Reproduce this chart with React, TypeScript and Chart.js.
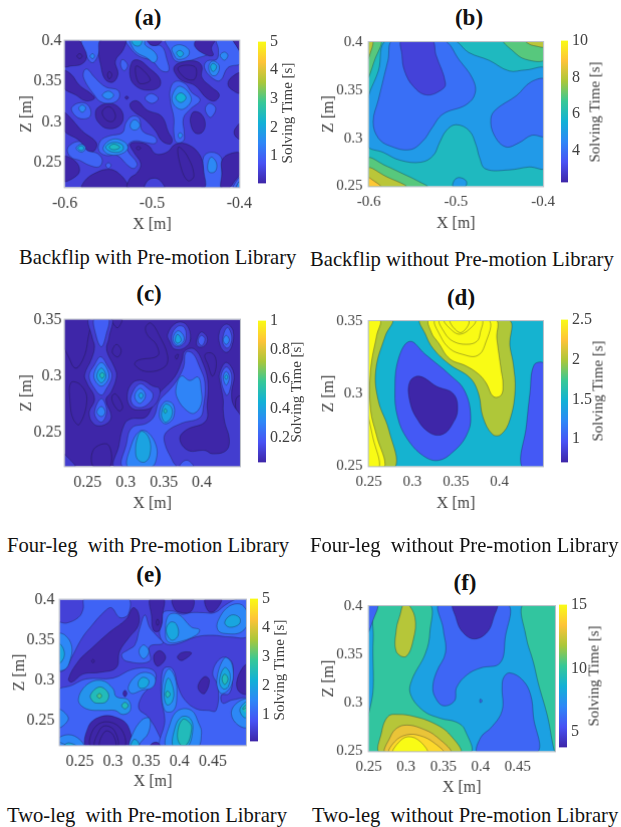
import React, { useEffect, useRef } from 'react';
import { Chart, registerables } from 'chart.js';

Chart.register(...registerables);

// Every ring: [solving time of the band, x, z, x, z, ...] with x and z in millimetres, painted in list order.
const ringsA: number[][] = [
  [1, -530,402,-505,402,-502,395,-489,393,-483,377,-481,363,-489,363,-500,375,-515,381,-525,391],
  [1, -580,402,-559,402,-561,385,-568,373,-575,381],
  [1, -484,402,-449,402,-436,385,-447,379,-460,375,-473,375,-479,387],
  [1, -426,402,-409,402,-398,373,-413,367,-422,351,-432,355,-440,367,-437,375,-426,377,-424,389],
  [1, -536,370,-534,377,-528,370,-532,363],
  [1, -578,363,-574,365,-566,355,-553,343,-539,339,-538,329,-547,323,-559,325,-566,333,-578,353],
  [1, -592,318,-581,324,-572,319,-571,307,-581,304,-589,309],
  [1, -508,329,-501,335,-493,329,-500,323],
  [1, -479,341,-473,350,-462,347,-455,337,-445,327,-456,316,-464,305,-463,285,-464,277,-472,275,-475,287,-475,305,-479,325],
  [1, -439,317,-434,323,-427,317,-432,306,-436,308],
  [1, -559,277,-549,283,-534,287,-530,299,-523,307,-515,305,-511,289,-496,281,-496,274,-508,275,-519,277,-527,273,-528,265,-517,249,-521,243,-528,247,-540,259,-553,259,-561,265],
  [1, -597,267,-589,275,-580,275,-572,265,-562,261,-557,253,-561,245,-572,247,-583,253,-593,257],
  [1, -553,247,-550,250,-547,247,-550,243],
  [1, -441,257,-432,263,-421,257,-420,241,-421,218,-442,218,-441,237],
  [0.05, -602,402,-586,402,-578,391,-575,379,-581,371,-592,369,-602,369],
  [0.05, -586,381,-583,384,-580,381,-583,378],
  [0.05, -602,363,-593,359,-583,345,-570,335,-566,329,-576,326,-587,333,-602,343],
  [0.05, -558,402,-531,402,-533,389,-542,375,-539,359,-545,349,-554,353,-559,371,-561,385],
  [0.05, -551,358,-549,362,-546,358,-549,353],
  [0.05, -506,402,-489,402,-493,395,-501,395],
  [0.05, -523,374,-515,376,-504,367,-491,353,-492,343,-504,339,-517,343,-525,355],
  [0.05, -518,369,-502,352,-515,348],
  [0.05, -448,402,-428,402,-432,391,-430,382,-439,383,-451,393],
  [0.05, -475,367,-468,373,-451,375,-443,369,-443,355,-432,343,-423,334,-428,326,-437,329,-451,345,-466,351,-473,359],
  [0.05, -470,367,-451,368,-451,353,-462,354],
  [0.05, -398,360,-409,355,-413,347,-409,340,-398,336],
  [0.05, -407,402,-398,402,-398,387,-403,393],
  [0.05, -562,318,-549,323,-537,317,-533,305,-538,295,-551,292,-561,299,-565,309],
  [0.05, -557,313,-549,319,-542,309,-545,301,-553,303],
  [0.05, -602,312,-595,307,-580,289,-564,275,-566,265,-574,265,-583,277,-602,291],
  [0.05, -525,323,-517,326,-506,315,-489,307,-481,287,-477,279,-479,273,-489,277,-496,289,-508,303,-523,315],
  [0.05, -451,313,-443,309,-439,297,-443,287,-451,287,-456,299,-455,309],
  [0.05, -531,330,-529,332,-527,330,-529,328],
  [0.05, -602,257,-589,253,-583,241,-589,232,-602,228],
  [0.05, -580,218,-577,228,-564,238,-549,242,-538,237,-528,224,-527,218],
  [0.05, -525,273,-515,275,-504,271,-496,261,-483,263,-473,273,-458,272,-445,259,-441,241,-442,218,-527,218,-526,230,-517,238,-513,249,-521,263],
  [0.5, -508,218,-505,228,-496,231,-489,226,-486,218],
  [0.05, -470,269,-460,259,-452,234,-459,228,-467,245],
  [0.05, -518,268,-516,270,-513,268,-516,266],
  [0.05, -420,253,-411,261,-398,261,-398,239,-405,228,-413,218,-421,218,-420,237],
  [1, -407,218,-403,228,-398,233,-398,218],
  [1.5, -403,218,-401,226,-398,226,-398,218],
  [0.05, -398,299,-404,293,-406,287,-403,281,-398,279],
  [1.5, -525,402,-509,402,-508,395,-498,387,-494,379,-498,373,-506,379,-517,385,-523,393],
  [2, -523,402,-512,402,-514,394,-521,395],
  [1.5, -571,381,-568,384,-566,381,-568,378],
  [1.5, -477,391,-468,395,-458,389,-459,381,-470,377,-475,383],
  [2, -472,385,-468,388,-464,384,-468,380],
  [1.5, -422,382,-417,386,-413,382,-417,376],
  [1.5, -435,369,-430,375,-423,369,-426,358,-432,358],
  [2, -433,368,-430,372,-426,368,-430,362],
  [1.5, -557,333,-550,338,-544,333,-550,328],
  [1.5, -584,317,-580,321,-576,317,-580,312],
  [1.5, -477,332,-468,344,-455,329,-464,316,-474,320],
  [2.2, -473,330,-467,336,-461,330,-467,324],
  [1.5, -470,284,-468,287,-465,284,-468,280],
  [1.5, -587,268,-581,273,-576,268,-581,263],
  [2, -585,268,-581,271,-578,268,-581,265],
  [1.5, -525,297,-520,303,-514,297,-517,291,-523,291],
  [1.5, -556,269,-545,279,-531,275,-528,267,-538,260,-551,261],
  [2, -553,269,-545,275,-534,272,-534,265,-545,263],
  [2.4, -549,269,-544,273,-537,269,-544,266],
  [1.5, -436,249,-432,257,-426,249,-428,239,-435,239],
];

const ringsB: number[][] = [
  [5, -579,402,-504,402,-485,389,-462,381,-439,370,-420,371,-397,371,-397,270,-416,270,-439,267,-466,268,-473,280,-477,293,-485,308,-500,314,-511,308,-519,295,-526,282,-540,275,-564,277,-583,285,-602,293,-602,337,-589,370],
  [7, -602,402,-586,402,-593,382,-602,362],
  [8, -602,402,-595,402,-600,384,-602,381],
  [7, -445,402,-397,402,-397,382,-420,382,-435,391],
  [8, -421,402,-397,402,-397,395,-409,396,-416,398],
  [7, -602,279,-580,271,-561,263,-545,256,-533,249,-602,248],
  [8, -602,269,-580,260,-557,249,-602,248],
  [9, -602,259,-595,256,-586,249,-602,248],
  [5, -503,249,-502,256,-496,259,-488,255,-490,249],
  [4, -572,402,-515,402,-496,381,-481,362,-478,347,-488,335,-515,325,-528,310,-538,297,-553,288,-576,292,-589,300,-595,317,-589,340,-578,381],
  [3, -562,402,-528,402,-523,387,-512,357,-517,350,-534,345,-549,354,-559,370,-562,387],
  [4, -397,360,-413,359,-431,344,-454,330,-460,320,-456,303,-443,291,-428,295,-413,303,-397,303],
];

const ringsC: number[][] = [
  [0.03, 217,352,251,352,250,331,244,315,234,307,225,317,217,330],
  [0.03, 228,294,241,292,249,279,239,257,231,262,227,276],
  [0.03, 283,324,288,328,294,323,290,317,283,320],
  [0.03, 281,352,295,352,290,343,284,346],
  [0.03, 282,282,287,284,296,273,292,269,284,275],
  [0.03, 258,235,277,239,279,219,258,219],
  [0.03, 326,343,333,347,344,336,355,318,351,308,327,304,312,310,316,314,342,318,340,328,329,336],
  [0.03, 404,319,414,320,419,311,414,300,408,310],
  [0.03, 381,333,383,335,385,333,383,330],
  [0.03, 365,317,367,319,369,319,367,315],
  [0.03, 445,280,452,282,452,264,446,267],
  [0.1, 252,352,281,352,278,334,275,323,285,308,288,300,281,286,274,279,281,264,273,257,259,257,252,267,259,280,249,294,246,301,255,315,259,326,256,334],
  [0.2, 259,352,277,352,274,336,268,326,261,336],
  [0.2, 267,317,277,308,282,300,274,288,268,283,259,289,252,300,259,310],
  [0.2, 268,280,275,269,268,259,259,267],
  [0.3, 258,300,268,312,278,300,268,291],
  [0.4, 262,300,268,307,274,300,268,294],
  [0.5, 266,301,269,303,272,301,269,298],
  [0.3, 262,268,268,273,273,268,268,264],
  [0.1, 287,219,291,238,298,257,307,262,325,263,333,270,342,283,364,299,374,314,377,322,390,324,401,312,408,295,407,275,405,260,379,252,371,244,382,234,404,234,414,231,432,234,436,244,430,259,428,270,428,279,424,294,423,302,432,312,442,302,439,285,441,275,452,262,452,219],
  [0.1, 302,283,309,294,322,296,336,291,344,289,344,282,336,273,322,270,307,272],
  [0.1, 217,232,222,229,234,219,217,219],
  [0.2, 297,219,301,240,308,254,327,258,337,264,344,278,355,286,366,295,376,308,379,321,388,320,397,308,404,294,402,273,397,263,373,258,353,250,351,241,362,224,366,219],
  [0.2, 371,219,375,224,382,225,389,219],
  [0.3, 303,219,307,238,318,251,329,250,340,238,340,226,333,219],
  [0.4, 313,232,316,247,322,251,331,244,332,231,326,224,317,225],
  [0.3, 344,267,351,277,362,275,363,264,355,258,348,259],
  [0.4, 347,267,352,275,360,272,360,264,353,259,349,261],
  [0.5, 350,269,352,271,354,269,352,267],
  [0.2, 307,282,318,293,329,289,336,283,329,275,318,272,309,275],
  [0.3, 312,283,319,289,326,283,320,276,315,277],
  [0.4, 317,283,320,285,323,283,320,280],
  [0.3, 366,289,373,300,384,296,395,299,399,288,399,275,390,267,379,270,368,280],
  [0.1, 355,337,366,347,379,346,385,333,377,325,364,324,358,330],
  [0.2, 360,335,368,344,377,343,379,333,373,327,364,327],
  [0.3, 362,333,368,340,375,337,376,331,368,327],
  [0.4, 365,332,368,337,373,332,368,329],
  [0.1, 393,331,399,339,407,334,404,327,395,326],
  [0.2, 395,331,399,336,404,333,400,327],
  [0.1, 423,339,432,346,441,340,439,326,432,321,424,327],
  [0.2, 427,331,433,343,439,336,437,327,432,325],
  [0.3, 428,332,432,336,436,332,432,328],
  [0.2, 425,299,432,308,439,301,436,286,432,283],
  [0.3, 428,299,432,304,436,299,432,292],
  [0.4, 430,299,432,301,434,299,432,297],
];

const ringsD: number[][] = [
  [2, 248,351,277,351,269,340,258,316,261,295,273,275,280,249,248,249],
  [2.5, 248,351,263,351,259,340,252,316,252,289,259,271,268,249,248,249],
  [2.5, 248,285,255,269,262,249,248,249],
  [2, 310,351,410,351,412,333,416,320,418,302,412,282,402,272,392,272,381,284,376,300,366,311,343,320,324,331,315,341],
  [2.5, 320,351,395,351,397,338,402,316,404,307,402,299,393,298,385,307,377,313,362,319,343,324,330,335,322,342],
  [2.5, 327,351,332,340,343,331,358,327,374,326,383,333,387,351],
  [2.5, 332,351,337,342,347,336,362,334,374,336,378,342,379,351],
  [2.5, 337,351,343,345,355,341,370,347,372,351],
  [2.5, 343,351,355,342,365,350],
  [1, 297,336,315,327,343,313,360,302,367,284,362,271,347,260,330,254,313,257,294,269,283,284,280,302,284,324],
  [0.71, 308,312,328,305,347,300,352,289,346,279,335,272,320,273,305,283,297,295,297,308],
  [1, 440,320,452,320,452,249,426,249,431,278,435,300],
];

const ringsE: number[][] = [
  [1, 258,402,322,402,323,382,310,378,298,390,288,386,266,366,253,352,240,332,228,314,216,312,216,371,230,371,248,378,255,388],
  [1, 313,332,323,338,333,344,340,364,348,381,355,366,365,356,375,346,355,342,355,324,320,324],
  [1, 375,384,390,386,403,382,418,384,435,384,453,384,470,394,490,402,503,402,503,356,475,354,450,356,425,354,395,345,378,346,370,358,374,372],
  [1, 216,286,238,294,260,302,300,303,330,314,358,314,365,304,355,292,343,280,339,265,353,255,370,231,375,217,216,217],
  [1, 374,217,378,251,373,276,373,304,378,316,390,314,398,292,408,276,425,265,443,263,455,263,458,292,450,310,463,328,478,324,480,304,475,284,463,282,465,272,480,276,503,276,503,217],
  [0.07, 233,302,248,324,268,340,295,360,320,376,330,390,338,384,338,368,323,352,310,336,305,316,280,310,255,308,238,298],
  [0.07, 268,324,270,326,272,324,270,322],
  [0.07, 356,402,376,402,375,384,370,362,361,362,358,380],
  [0.07, 365,372,367,376,369,372,367,368],
  [0.07, 390,402,420,402,418,386,403,384,393,388],
  [0.07, 439,402,463,402,453,386,443,386],
  [0.07, 361,330,370,337,379,330,375,322,366,318],
  [0.07, 397,330,405,335,418,334,405,325,399,326],
  [0.07, 428,294,438,305,445,300,438,284,431,286],
  [0.07, 503,320,495,316,486,298,490,286,503,284],
  [0.07, 315,284,318,288,321,284,318,280],
  [0.07, 261,217,263,243,280,255,303,255,323,243,324,217],
  [0.07, 268,217,270,239,290,249,313,239,316,217],
  [0.07, 273,217,280,239,290,244,303,237,306,217],
  [0.07, 280,217,288,237,300,233,303,217],
  [0.07, 355,217,360,223,368,223,371,217],
  [1.5, 216,357,228,356,238,342,235,324,228,314,216,314],
  [2, 216,347,225,340,226,328,216,320],
  [1.5, 379,356,383,380,398,382,418,366,430,363,425,356,395,347,383,348],
  [2, 380,362,386,372,395,370,398,356,388,350],
  [1.5, 458,374,475,392,495,393,503,374,493,360,470,358,458,362],
  [2, 468,372,478,381,490,378,490,370,475,366],
  [1.5, 339,336,346,344,354,336,346,327],
  [1.7, 248,276,261,295,283,300,300,290,305,280,323,276,326,263,315,258,303,263,285,263,260,265],
  [2.5, 266,282,280,292,293,284,290,274,278,272,270,274],
  [3, 276,281,280,284,283,281,280,278],
  [2.5, 313,269,318,273,323,269,318,265],
  [1.5, 323,292,335,306,350,310,363,304,360,292,343,288,328,284],
  [2, 338,298,345,304,354,300,350,292,340,291],
  [1.5, 216,217,216,227,233,233,250,227,256,217],
  [2, 225,217,233,223,248,217],
  [1.5, 216,265,233,253,216,241],
  [1.5, 325,217,328,231,343,251,355,253,353,235,341,223,338,217],
  [2, 327,217,331,227,337,225,339,217],
  [1.5, 374,292,383,314,393,304,396,280,391,263,378,263],
  [2, 377,284,383,303,391,288,389,274,381,270],
  [2.5, 379,283,382,287,386,283,382,279],
  [1.5, 381,217,386,247,398,263,418,263,429,247,433,235,426,217],
  [2, 391,217,393,241,403,255,416,253,420,239,411,217],
  [2.5, 397,235,405,252,416,247,418,239,411,221,401,221],
  [1.5, 456,300,468,328,479,320,478,294,463,284],
  [2, 460,300,468,316,476,308,473,292,465,290],
  [2.5, 464,302,468,308,473,302,468,295],
  [1.5, 478,259,486,272,503,276,503,243,488,245],
  [2, 491,265,503,274,503,255,496,255],
  [2.5, 495,265,503,270,503,259],
];

const ringsF: number[][] = [
  [10, 262,403,330,403,332,373,326,351,308,324,306,309,323,292,346,284,368,280,379,272,385,248,251,248,256,316,256,366],
  [10, 458,403,504,403,504,248,500,248,490,286,478,319,471,342,461,369],
  [6, 247,403,262,403,256,386,247,371],
  [12, 297,403,302,403,312,388,310,366,300,348,287,353,287,376,292,391],
  [12, 266,248,267,269,276,286,290,288,310,286,337,279,359,267,372,248],
  [13, 273,248,279,265,288,274,301,277,319,274,341,265,359,248],
  [14, 278,248,285,260,301,267,319,266,337,259,350,248],
  [15, 283,248,290,259,303,265,319,260,328,248],
  [6, 346,403,435,403,433,366,426,341,400,336,382,329,368,316,365,302,350,297,339,306,336,317,341,332,353,352,350,376],
  [4, 364,403,421,403,418,389,409,373,391,366,375,374,367,388],
  [6, 431,326,439,331,456,324,467,309,471,286,475,248,397,248,400,264,415,275,429,292,429,316],
  [6, 399,302,400,304,402,302,400,300],
];

const xTicksWide = [-0.6, -0.5, -0.4];
const xTicksC = [0.25, 0.3, 0.35, 0.4];
const xTicksD = [0.25, 0.3, 0.35, 0.4];
const xTicksE = [0.25, 0.3, 0.35, 0.4, 0.45];
const xTicksF = [0.25, 0.3, 0.35, 0.4, 0.45];
const zTicksAE = [0.25, 0.3, 0.35, 0.4];
const zTicksCD = [0.25, 0.3, 0.35];
const barTicksA = [1, 2, 3, 4, 5];
const barTicksB = [4, 6, 8, 10];
const barTicksC = [0.2, 0.4, 0.6, 0.8, 1];
const barTicksD = [1, 1.5, 2, 2.5];
const barTicksF = [5, 10, 15];

const PARULA = [
  [0.2422, 0.1504, 0.6603], [0.281, 0.3228, 0.9579], [0.1786, 0.5289, 0.9682], [0.0689, 0.6948, 0.8394],
  [0.2161, 0.7843, 0.5923], [0.672, 0.7793, 0.2227], [0.997, 0.7659, 0.2199], [0.9769, 0.9839, 0.0805],
];

function parula(t: number): string {
  const u = Math.max(0, Math.min(1, t)) * (PARULA.length - 1);
  const i = Math.min(PARULA.length - 2, Math.floor(u));
  const f = u - i;
  const c = PARULA[i].map((v, k) => Math.round(255 * (v + (PARULA[i + 1][k] - v) * f)));
  return `rgb(${c[0]},${c[1]},${c[2]})`;
}

const SERIF = '"Liberation Serif", "Times New Roman", serif';
const INK = '#404040';

type Panel = {
  tag: string; tagX: number; tagY: number;
  caption: string; capX: number; capY: number;
  x0: number; x1: number; y0: number; y1: number;
  xMin: number; xMax: number; zMin: number; zMax: number;
  xTicks: number[]; zTicks: number[];
  vMin: number; vMax: number; base: number; rings: number[][];
  barX0: number; barX1: number; barTicks: number[];
  barTitleX: number;
  yTitleX: number; xTitleY: number; yPad: number; tickFont: number;
};

const panels: Panel[] = [
  { tag: '(a)', tagX: 148, tagY: 17, caption: 'Backflip with Pre-motion Library', capX: 19, capY: 257,
    x0: 65, x1: 241, y0: 38, y1: 187, xMin: -0.6, xMax: -0.4, zMin: 0.22, zMax: 0.4,
    xTicks: xTicksWide, zTicks: zTicksAE, vMin: 0.05, vMax: 5, base: 0.5, rings: ringsA,
    barX0: 258, barX1: 266, barTicks: barTicksA, barTitleX: 287, yTitleX: 27, xTitleY: 224, yPad: 3, tickFont: 16 },
  { tag: '(b)', tagX: 469, tagY: 17, caption: 'Backflip without Pre-motion Library', capX: 310, capY: 259,
    x0: 369, x1: 544, y0: 37, y1: 186, xMin: -0.6, xMax: -0.4, zMin: 0.25, zMax: 0.4,
    xTicks: xTicksWide, zTicks: zTicksAE, vMin: 2.3, vMax: 10, base: 6, rings: ringsB,
    barX0: 561, barX1: 568, barTicks: barTicksB, barTitleX: 595, yTitleX: 329, xTitleY: 223, yPad: 6, tickFont: 15 },
  { tag: '(c)', tagX: 149, tagY: 293, caption: 'Four-leg  with Pre-motion Library', capX: 7, capY: 545,
    x0: 65, x1: 240, y0: 317, y1: 466, xMin: 0.22, xMax: 0.45, zMin: 0.22, zMax: 0.35,
    xTicks: xTicksC, zTicks: zTicksCD, vMin: 0.03, vMax: 1, base: 0.03, rings: ringsC,
    barX0: 258, barX1: 266, barTicks: barTicksC, barTitleX: 296, yTitleX: 27, xTitleY: 503, yPad: 3, tickFont: 16 },
  { tag: '(d)', tagX: 461, tagY: 297, caption: 'Four-leg  without Pre-motion Library', capX: 310, capY: 545,
    x0: 369, x1: 543, y0: 316, y1: 466, xMin: 0.25, xMax: 0.45, zMin: 0.25, zMax: 0.35,
    xTicks: xTicksD, zTicks: zTicksCD, vMin: 0.71, vMax: 2.5, base: 1.5, rings: ringsD,
    barX0: 561, barX1: 568, barTicks: barTicksD, barTitleX: 598, yTitleX: 329, xTitleY: 503, yPad: 6, tickFont: 15 },
  { tag: '(e)', tagX: 149, tagY: 574, caption: 'Two-leg  with Pre-motion Library', capX: 7, capY: 815,
    x0: 60, x1: 246, y0: 595, y1: 745, xMin: 0.22, xMax: 0.5, zMin: 0.22, zMax: 0.4,
    xTicks: xTicksE, zTicks: zTicksAE, vMin: 0.07, vMax: 5, base: 0.5, rings: ringsE,
    barX0: 250, barX1: 258, barTicks: barTicksA, barTitleX: 279, yTitleX: 20, xTitleY: 781, yPad: 5, tickFont: 16 },
  { tag: '(f)', tagX: 465, tagY: 582, caption: 'Two-leg  without Pre-motion Library', capX: 312, capY: 815,
    x0: 369, x1: 555, y0: 601, y1: 751, xMin: 0.25, xMax: 0.5, zMin: 0.25, zMax: 0.4,
    xTicks: xTicksF, zTicks: zTicksAE, vMin: 3.8, vMax: 15, base: 8, rings: ringsF,
    barX0: 559, barX1: 567, barTicks: barTicksF, barTitleX: 594, yTitleX: 329, xTitleY: 787, yPad: 6, tickFont: 15 },
];

const TOP_PAD = 10;
const RIGHT_PAD = 18;
const BAR_LABEL_W = 40;
const TITLE_OFFSET = 9.6;

const contourFill = {
  id: 'contourFill',
  afterDatasetUpdate(_chart: any, args: any) {
    const line = args.meta.dataset;
    if (!line) return;
    line._loop = true;
    line._fullLoop = true;
    line._pointsUpdated = false;
    delete line._segments;
    delete line._path;
  },
  beforeDatasetsDraw(chart: any, _args: any, opts: any) {
    const { ctx, chartArea: a } = chart;
    ctx.save();
    ctx.fillStyle = opts.baseColor;
    ctx.fillRect(a.left, a.top, a.width, a.height);
    ctx.restore();
  },
  beforeDatasetDraw(chart: any, args: any) {
    const line = args.meta.dataset;
    if (!line) return;
    const { ctx, chartArea: a } = chart;
    line.updateControlPoints(a, 'x');
    ctx.save();
    ctx.beginPath();
    ctx.rect(a.left, a.top, a.width, a.height);
    ctx.clip();
    ctx.beginPath();
    line.path(ctx);
    ctx.closePath();
    ctx.fillStyle = line.options.backgroundColor;
    ctx.fill();
    ctx.restore();
  },
  afterDraw(chart: any) {
    const { ctx, chartArea: a } = chart;
    ctx.save();
    ctx.strokeStyle = '#b8bcc4';
    ctx.lineWidth = 1;
    ctx.strokeRect(a.left - 0.5, a.top - 0.5, a.width + 1, a.height + 1);
    ctx.restore();
  },
};

function ringToPoints(ring: number[]) {
  const pts: { x: number; y: number }[] = [];
  for (let i = 1; i + 1 < ring.length; i += 2) pts.push({ x: ring[i] / 1000, y: ring[i + 1] / 1000 });
  return pts;
}

function ContourChart({ p }: { p: Panel }) {
  const ref = useRef<HTMLCanvasElement>(null);
  const yW = p.x0 - (p.yTitleX - TITLE_OFFSET);
  const xH = p.xTitleY + TITLE_OFFSET - p.y1;
  const width = yW + (p.x1 - p.x0) + RIGHT_PAD;
  const height = TOP_PAD + (p.y1 - p.y0) + xH;
  useEffect(() => {
    const norm = (v: number) => (v - p.vMin) / (p.vMax - p.vMin);
    const chart = new Chart(ref.current as HTMLCanvasElement, {
      type: 'scatter',
      data: {
        datasets: p.rings.map((ring, i) => ({
          data: ringToPoints(ring),
          showLine: true,
          tension: 0.4,
          capBezierPoints: false,
          fill: false,
          pointRadius: 0,
          borderWidth: 0.55,
          borderColor: 'rgba(25,25,45,0.6)',
          backgroundColor: parula(norm(ring[0])),
          order: -i,
        })),
      } as any,
      plugins: [contourFill as any],
      options: {
        animation: false,
        responsive: false,
        layout: { padding: { top: TOP_PAD, right: RIGHT_PAD, bottom: 0, left: 0 } },
        plugins: {
          legend: { display: false },
          tooltip: { enabled: false },
          contourFill: { baseColor: parula(norm(p.base)) },
        } as any,
        scales: {
          x: {
            type: 'linear', min: p.xMin, max: p.xMax,
            grid: { display: false, drawTicks: false },
            border: { display: false },
            afterBuildTicks: (s: any) => { s.ticks = p.xTicks.map((value) => ({ value })); },
            afterFit: (s: any) => { s.height = xH; },
            ticks: {
              autoSkip: false, maxRotation: 0, minRotation: 0, padding: 7, color: INK,
              font: { family: SERIF, size: p.tickFont },
              callback: (v: any) => String(v),
            },
            title: { display: true, text: 'X [m]', color: INK, padding: 0, font: { family: SERIF, size: 16 } },
          },
          y: {
            type: 'linear', min: p.zMin, max: p.zMax,
            grid: { display: false, drawTicks: false },
            border: { display: false },
            afterBuildTicks: (s: any) => { s.ticks = p.zTicks.map((value) => ({ value })); },
            afterFit: (s: any) => { s.width = yW; },
            ticks: {
              autoSkip: false, padding: p.yPad, color: INK,
              font: { family: SERIF, size: p.tickFont },
              callback: (v: any) => String(v),
            },
            title: { display: true, text: 'Z [m]', color: INK, padding: 0, font: { family: SERIF, size: 16 } },
          },
        },
      } as any,
    });
    return () => chart.destroy();
  }, []);
  return (
    <canvas
      ref={ref}
      width={width}
      height={height}
      style={{ position: 'absolute', left: p.x0 - yW, top: p.y0 - TOP_PAD, width, height }}
    />
  );
}

function ColorBar({ p }: { p: Panel }) {
  const ref = useRef<HTMLCanvasElement>(null);
  const barW = p.barX1 - p.barX0;
  const width = barW + BAR_LABEL_W;
  const height = p.y1 - p.y0 + TOP_PAD * 2;
  useEffect(() => {
    const chart = new Chart(ref.current as HTMLCanvasElement, {
      type: 'bar',
      data: {
        labels: ['Solving Time [s]'],
        datasets: [{
          data: [[p.vMin, p.vMax]],
          barPercentage: 1,
          categoryPercentage: 1,
          borderWidth: 0,
          backgroundColor: (c: any) => {
            const area = c.chart.chartArea;
            if (!area) return parula(0);
            const g = c.chart.ctx.createLinearGradient(0, area.bottom, 0, area.top);
            for (let i = 0; i < PARULA.length; i++) g.addColorStop(i / (PARULA.length - 1), parula(i / (PARULA.length - 1)));
            return g;
          },
        }],
      } as any,
      options: {
        animation: false,
        responsive: false,
        layout: { padding: { top: TOP_PAD, bottom: TOP_PAD, left: 0, right: 0 } },
        plugins: { legend: { display: false }, tooltip: { enabled: false } },
        scales: {
          x: { display: false },
          y: {
            position: 'right', min: p.vMin, max: p.vMax,
            grid: { display: false, drawTicks: false },
            border: { display: false },
            afterBuildTicks: (s: any) => { s.ticks = p.barTicks.map((value) => ({ value })); },
            afterFit: (s: any) => { s.width = BAR_LABEL_W; },
            ticks: {
              autoSkip: false, padding: 4, color: INK,
              font: { family: SERIF, size: 16 },
              callback: (v: any) => String(v),
            },
          },
        },
      } as any,
    });
    return () => chart.destroy();
  }, []);
  return (
    <canvas
      ref={ref}
      width={width}
      height={height}
      style={{ position: 'absolute', left: p.barX0, top: p.y0 - TOP_PAD, width, height }}
    />
  );
}

export default function App() {
  return (
    <div style={{ position: 'absolute', left: 0, top: 0, width: 621, height: 827, overflow: 'hidden', background: '#fff', fontFamily: SERIF }}>
      {panels.map((p) => (
        <React.Fragment key={p.tag}>
          <div style={{ position: 'absolute', left: p.tagX, top: p.tagY, transform: 'translate(-50%,-50%)', fontSize: 23, fontWeight: 'bold', color: '#111', whiteSpace: 'pre', lineHeight: 1 }}>{p.tag}</div>
          <ContourChart p={p} />
          <ColorBar p={p} />
          <div style={{ position: 'absolute', left: p.barTitleX, top: (p.y0 + p.y1) / 2, transform: 'translate(-50%,-50%) rotate(-90deg)', fontSize: 15, color: INK, whiteSpace: 'pre', lineHeight: 1 }}>Solving Time [s]</div>
          <div style={{ position: 'absolute', left: p.capX, top: p.capY, transform: 'translateY(-50%)', fontSize: 20.6, color: '#111', whiteSpace: 'pre', lineHeight: 1 }}>{p.caption}</div>
        </React.Fragment>
      ))}
    </div>
  );
}
